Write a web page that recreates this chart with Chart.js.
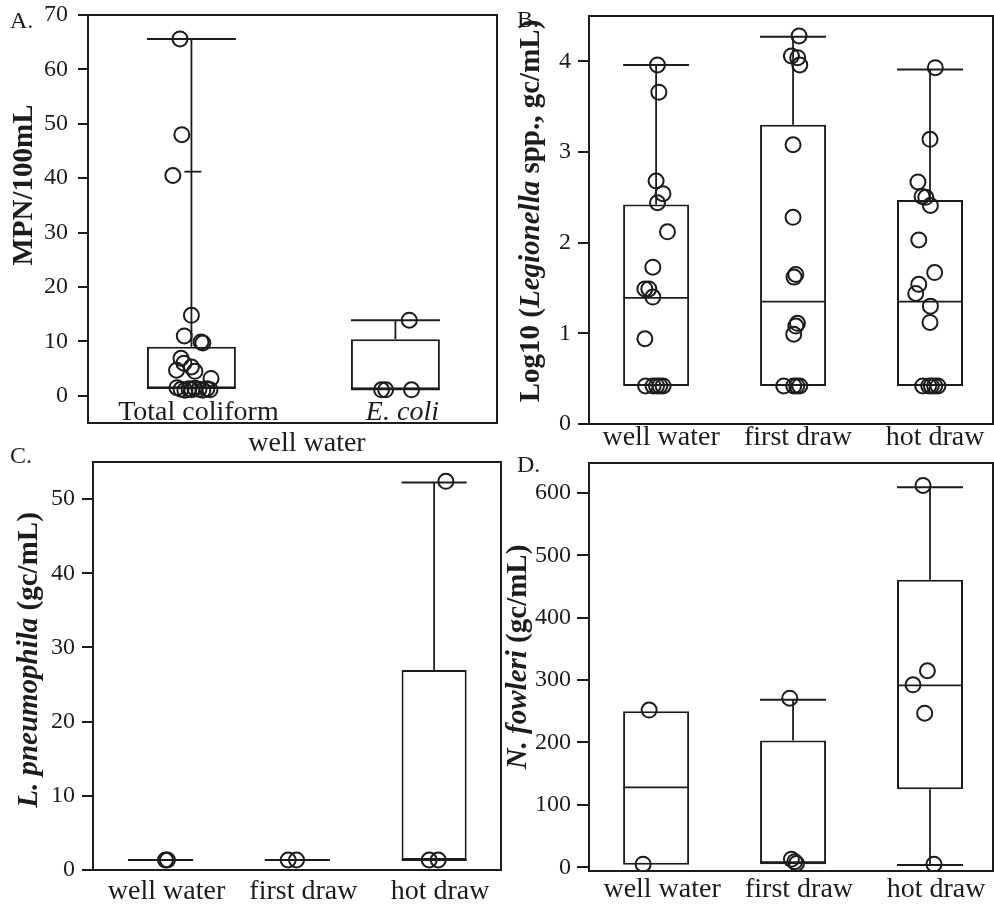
<!DOCTYPE html>
<html>
<head>
<meta charset="utf-8">
<script src="https://cdn.jsdelivr.net/npm/chart.js@4.4.1/dist/chart.umd.min.js"></script>
<style>
  html, body { margin: 0; background: #fff; }
  #wrap { position: relative; width: 994px; height: 905px; overflow: hidden; }
  canvas { position: absolute; }
</style>
</head>
<body>
<div id="wrap">
  <canvas id="chartA" width="500" height="455" style="left:0;top:0"></canvas>
  <canvas id="chartB" width="494" height="455" style="left:500px;top:0"></canvas>
  <canvas id="chartC" width="504" height="465" style="left:0;top:440px"></canvas>
  <canvas id="chartD" width="490" height="465" style="left:504px;top:440px"></canvas>
</div>
<script>
// ---- A: indicator bacteria in well water (MPN/100mL)
const catsA = ["Total coliform", "E. coli"];
const q1A = [1.4, 1.2];
const q3A = [9.0, 10.4];
const medA = [1.4, 1.2];
const loA = [null, null];
const hiA = [65.6, 13.9];
const markA = [41.2, null];
const totalColiform = [65.6, 48.0, 40.5, 14.8, 11.0, 9.9, 9.7, 6.9, 6.0, 5.3, 4.7, 4.5, 3.2,
  1.5, 1.2, 1.0, 1.3, 1.1, 1.4, 1.2, 1.0, 1.3, 1.1];
const totalColiformJit = [-0.056, -0.047, -0.091, 0.0, -0.035, 0.047, 0.056, -0.051, -0.037, 0.0, -0.073, 0.017, 0.096,
  -0.071, -0.051, -0.032, -0.012, 0.002, 0.017, 0.037, 0.056, 0.076, 0.091];
const eColi = [13.9, 1.1, 1.1, 1.1];
const eColiJit = [0.068, -0.068, -0.048, 0.079];
const yTicksA = [0, 10, 20, 30, 40, 50, 60, 70];

// ---- B: Log10 Legionella spp.
const catsB = ["well water", "first draw", "hot draw"];
const q1B = [0.42, 0.42, 0.42];
const q3B = [2.42, 3.30, 2.47];
const medB = [1.39, 1.35, 1.35];
const loB = [null, null, null];
const hiB = [3.96, 4.27, 3.91];
const legWell = [3.96, 3.66, 2.68, 2.54, 2.44, 2.12, 1.73, 1.49, 1.49, 1.40, 0.94, 0.42, 0.42, 0.42, 0.42, 0.42];
const legWellJit = [0.01, 0.02, 0.0, 0.05, 0.01, 0.083, -0.024, -0.082, -0.053, -0.024, -0.082, -0.077, -0.022, 0.003, 0.027, 0.051];
const legFirst = [4.28, 4.06, 4.04, 3.96, 3.08, 2.28, 1.65, 1.62, 1.11, 1.08, 0.99, 0.42, 0.42, 0.42, 0.42];
const legFirstJit = [0.044, -0.012, 0.034, 0.049, 0.0, 0.0, 0.02, 0.007, 0.032, 0.02, 0.005, -0.068, 0.005, 0.027, 0.049];
const legHot = [3.93, 3.14, 2.67, 2.51, 2.50, 2.41, 2.03, 1.67, 1.54, 1.44, 1.30, 1.12, 0.42, 0.42, 0.42, 0.42, 0.42];
const legHotJit = [0.039, 0.0, -0.088, -0.058, -0.031, 0.003, -0.082, 0.034, -0.082, -0.104, 0.003, 0.0, -0.053, -0.009, 0.01, 0.034, 0.058];
const yTicksB = [0, 1, 2, 3, 4];

// ---- C: L. pneumophila (gc/mL)
const catsC = ["well water", "first draw", "hot draw"];
const q1C = [1.35, 1.35, 1.35];
const q3C = [1.35, 1.35, 26.95];
const medC = [1.35, 1.35, 1.35];
const loC = [null, null, null];
const hiC = [null, null, 52.25];
const lpWell = [1.35, 1.35];
const lpWellJit = [0.036, 0.05];
const lpFirst = [1.35, 1.35];
const lpFirstJit = [-0.067, -0.006];
const lpHot = [52.4, 1.35, 1.35];
const lpHotJit = [0.086, -0.036, 0.03];
const yTicksC = [0, 10, 20, 30, 40, 50];

// ---- D: N. fowleri (gc/mL)
const catsD = ["well water", "first draw", "hot draw"];
const q1D = [4, 5, 125];
const q3D = [250, 203, 461];
const medD = [128, 8, 291.5];
const loD = [null, null, 3.7];
const hiD = [null, 268.5, 609];
const nfWell = [252, 5];
const nfWellJit = [-0.051, -0.095];
const nfFirst = [271, 13, 9, 6];
const nfFirstJit = [-0.024, -0.012, 0.012, 0.025];
const nfHot = [612, 315, 292.5, 247, 5];
const nfHotJit = [-0.051, -0.019, -0.124, -0.039, 0.029];
const yTicksD = [0, 100, 200, 300, 400, 500, 600];

const FONT = '"Liberation Serif", "Times New Roman", serif';
const INK = "#1c1c1c";
const italicCats = ["E. coli"];

const pts = (vals, jit, idx) => vals.map((v, k) => ({ x: idx + jit[k], y: v }));
const catFont = name => ({ family: FONT, size: 28, style: italicCats.includes(name) ? "italic" : "normal" });

function strokeLine(ctx, x1, y1, x2, y2, w) {
  ctx.lineWidth = w;
  ctx.beginPath();
  ctx.moveTo(x1, y1);
  ctx.lineTo(x2, y2);
  ctx.stroke();
}

// whiskers, caps, medians, frame and the rich-text labels
const boxExtras = {
  id: "boxExtras",
  afterDatasetsDraw(chart, args, o) {
    const { ctx } = chart;
    const xs = chart.scales.x, ys = chart.scales.y;
    const boxes = chart.getDatasetMeta(0).data;
    ctx.save();
    ctx.strokeStyle = INK;
    o.med.forEach((m, i) => {
      const cx = xs.getPixelForValue(i);
      const hw = boxes[i].width / 2;
      const top = ys.getPixelForValue(o.q3[i]);
      const bot = ys.getPixelForValue(o.q1[i]);
      if (o.hi[i] != null) {
        const yh = ys.getPixelForValue(o.hi[i]);
        strokeLine(ctx, cx, top, cx, yh, 1.8);
        strokeLine(ctx, cx - hw, yh, cx + hw, yh, 2);
      }
      if (o.lo[i] != null) {
        const yl = ys.getPixelForValue(o.lo[i]);
        strokeLine(ctx, cx, bot, cx, yl, 1.8);
        strokeLine(ctx, cx - hw, yl, cx + hw, yl, 2);
      }
      if (o.mark && o.mark[i] != null) {
        const ym = ys.getPixelForValue(o.mark[i]);
        strokeLine(ctx, cx - 7, ym, cx + 10, ym, 1.8);
      }
      if (m != null) {
        const ymed = ys.getPixelForValue(m);
        strokeLine(ctx, cx - hw, ymed, cx + hw, ymed, 1.8);
      }
    });
    ctx.restore();
  },
  afterDraw(chart, args, o) {
    const { ctx, chartArea: a } = chart;
    const xs = chart.scales.x;
    ctx.save();
    ctx.strokeStyle = INK;
    ctx.lineWidth = 2;
    ctx.strokeRect(a.left, a.top, a.right - a.left, a.bottom - a.top);

    // y title with mixed italic parts
    ctx.fillStyle = INK;
    ctx.translate(o.title.x, o.title.y);
    ctx.rotate(-Math.PI / 2);
    ctx.textBaseline = "middle";
    ctx.textAlign = "left";
    const fonts = o.title.parts.map(p => (p.italic ? "italic " : "") + "bold 29px " + FONT);
    const widths = o.title.parts.map((p, i) => { ctx.font = fonts[i]; return ctx.measureText(p.text).width; });
    let x = -widths.reduce((s, w) => s + w, 0) / 2;
    o.title.parts.forEach((p, i) => {
      ctx.font = fonts[i];
      ctx.fillText(p.text, x, 0);
      x += widths[i];
    });
    ctx.restore();

    ctx.save();
    ctx.fillStyle = INK;
    ctx.textBaseline = "alphabetic";
    ctx.textAlign = "left";
    ctx.font = "24px " + FONT;
    ctx.fillText(o.letter.text, o.letter.x, o.letter.y);
    ctx.textAlign = "center";
    // category names that sit inside the frame (panel A)
    if (o.inner) {
      o.inner.cats.forEach((name, i) => {
        const f = catFont(name);
        ctx.font = f.style + " " + f.size + "px " + FONT;
        ctx.fillText(name, xs.getPixelForValue(i) + o.inner.shift, o.inner.y);
      });
    }
    if (o.group) {
      ctx.font = "28px " + FONT;
      ctx.fillText(o.group.text, o.group.x, o.group.y);
    }
    ctx.restore();
  }
};

function panel(id, p) {
  return new Chart(document.getElementById(id), {
    type: "bar",
    data: {
      datasets: [
        {
          type: "bar",
          data: p.q1.map((q, i) => ({ x: i, y: [q, p.q3[i]] })),
          backgroundColor: "#fff",
          borderColor: INK,
          borderWidth: 2,
          borderSkipped: false,
          barPercentage: p.boxFrac,
          categoryPercentage: 1,
          order: 2,
        },
        {
          type: "scatter",
          data: p.points,
          pointRadius: 7.5,
          pointBorderWidth: 2,
          borderColor: INK,
          backgroundColor: "rgba(0,0,0,0)",
          order: 1,
        },
      ],
    },
    options: {
      responsive: false,
      animation: false,
      events: [],
      layout: { padding: p.pad, autoPadding: false },
      plugins: {
        legend: { display: false },
        tooltip: { enabled: false },
        boxExtras: {
          q1: p.q1, q3: p.q3, med: p.med, lo: p.lo, hi: p.hi, mark: p.mark,
          title: p.title, letter: p.letter, group: p.group, inner: p.inner,
        },
      },
      scales: {
        x: {
          type: "linear",
          offset: false,
          min: p.xRange[0],
          max: p.xRange[1],
          afterBuildTicks: s => { s.ticks = p.cats.map((c, i) => ({ value: i })); },
          afterFit: s => { s.height = p.xH; s.paddingLeft = 0; s.paddingRight = 0; },
          grid: { display: false, drawTicks: false, offset: false },
          border: { display: false },
          ticks: {
            display: !p.inner,
            autoSkip: false,
            maxRotation: 0,
            padding: p.xPad,
            labelOffset: p.labelShift,
            color: INK,
            font: c => catFont(p.cats[c.index]),
            callback: v => p.cats[v],
          },
        },
        y: {
          min: p.yRange[0],
          max: p.yRange[1],
          afterBuildTicks: s => { s.ticks = p.yTicks.map(v => ({ value: v })); },
          afterFit: s => { s.width = p.yW; s.paddingTop = 0; s.paddingBottom = 0; },
          grid: { drawOnChartArea: false, tickLength: p.tickLen, color: INK, lineWidth: 2 },
          border: { display: false },
          ticks: { padding: p.yPad, color: INK, font: { family: FONT, size: 24 } },
        },
      },
    },
    plugins: [boxExtras],
  });
}

panel("chartA", {
  cats: catsA, q1: q1A, q3: q3A, med: medA, lo: loA, hi: hiA, mark: markA,
  points: [...pts(totalColiform, totalColiformJit, 0), ...pts(eColi, eColiJit, 1)],
  boxFrac: 0.436, xRange: [-0.507, 1.498], yRange: [-5, 70], yTicks: yTicksA,
  pad: { left: 0, top: 15, right: 3, bottom: 0 }, yW: 88, xH: 32, xPad: 0, labelShift: 0,
  tickLen: 10, yPad: 10,
  inner: { cats: catsA, shift: 7, y: 420 },
  title: { x: 25, y: 185, parts: [{ text: "MPN/100mL" }] },
  letter: { text: "A.", x: 10, y: 28 },
  group: { text: "well water", x: 307, y: 451 },
});

panel("chartB", {
  cats: catsB, q1: q1B, q3: q3B, med: medB, lo: loB, hi: hiB,
  points: [...pts(legWell, legWellJit, 0), ...pts(legFirst, legFirstJit, 1), ...pts(legHot, legHotJit, 2)],
  boxFrac: 0.482, xRange: [-0.49, 2.46], yRange: [0, 4.5], yTicks: yTicksB,
  pad: { left: 0, top: 16, right: 1, bottom: 0 }, yW: 89, xH: 31, xPad: -3, labelShift: 5,
  tickLen: 11, yPad: 7,
  title: { x: 32, y: 211, parts: [{ text: "Log10 (" }, { text: "Legionella", italic: true }, { text: " spp., gc/mL)" }] },
  letter: { text: "B.", x: 17, y: 27 },
});

panel("chartC", {
  cats: catsC, q1: q1C, q3: q3C, med: medC, lo: loC, hi: hiC,
  points: [...pts(lpWell, lpWellJit, 0), ...pts(lpFirst, lpFirstJit, 1), ...pts(lpHot, lpHotJit, 2)],
  boxFrac: 0.476, xRange: [-0.494, 2.489], yRange: [0, 55], yTicks: yTicksC,
  pad: { left: 0, top: 22, right: 3, bottom: 0 }, yW: 93, xH: 35, xPad: 5, labelShift: 6,
  tickLen: 11, yPad: 7,
  title: { x: 30, y: 220, parts: [{ text: "L. pneumophila", italic: true }, { text: " (gc/mL)" }] },
  letter: { text: "C.", x: 10, y: 23 },
});

panel("chartD", {
  cats: catsD, q1: q1D, q3: q3D, med: medD, lo: loD, hi: hiD,
  points: [...pts(nfWell, nfWellJit, 0), ...pts(nfFirst, nfFirstJit, 1), ...pts(nfHot, nfHotJit, 2)],
  boxFrac: 0.482, xRange: [-0.49, 2.46], yRange: [-6, 648], yTicks: yTicksD,
  pad: { left: 0, top: 23, right: 1, bottom: 0 }, yW: 85, xH: 34, xPad: 2, labelShift: 6,
  tickLen: 12, yPad: 6,
  title: { x: 15, y: 217, parts: [{ text: "N. fowleri", italic: true }, { text: " (gc/mL)" }] },
  letter: { text: "D.", x: 13, y: 32 },
});
</script>
</body>
</html>
